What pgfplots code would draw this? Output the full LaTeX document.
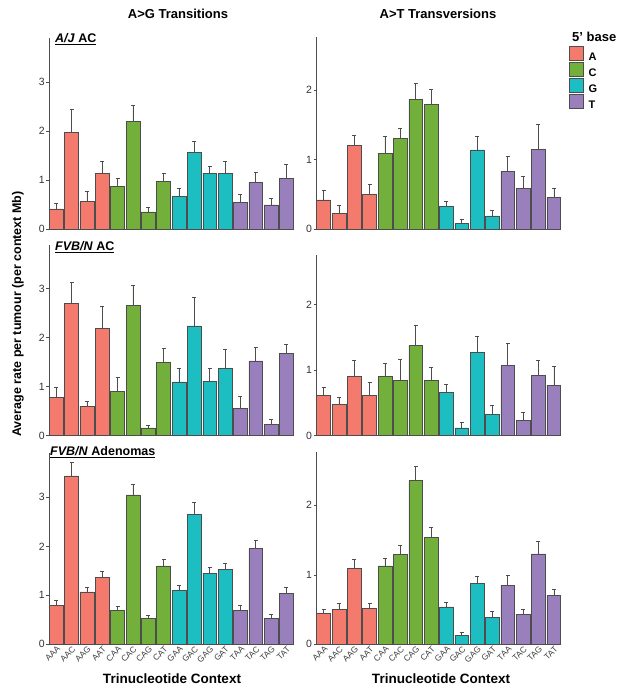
\documentclass[border=0pt]{standalone}
\usepackage{fontspec}
\setmainfont{Liberation Sans}
\usepackage{pgfplots}
\pgfplotsset{compat=1.18}
\definecolor{cA}{HTML}{F47A6E}
\definecolor{cC}{HTML}{72AF3B}
\definecolor{cG}{HTML}{1CBEC1}
\definecolor{cT}{HTML}{9A7FBD}
\definecolor{edge}{HTML}{4D4D4D}
\pgfplotsset{
  panel/.style={
    scale only axis, width=244pt,
    ybar, bar width=0.9, bar shift=0pt,
    xmin=0.55, xmax=16.45, ymin=0,
    axis lines*=left,
    axis line style={draw=edge, line width=0.7pt},
    tick align=outside, major tick length=3pt,
    y tick style={draw=edge, line width=0.6pt},
    x tick style={draw=none},
    xtick=\empty,
    /pgf/number format/assume math mode=true,
    yticklabel style={font=\fontsize{10.5}{12}\selectfont, text=black!80, inner sep=1.5pt},
    every axis plot/.append style={draw=edge, line width=0.5pt},
    error bars/y dir=plus, error bars/y explicit,
    error bars/error bar style={draw=edge, line width=0.6pt},
    error bars/error mark options={rotate=90, mark size=2pt, draw=edge, line width=0.6pt},
    clip=false,
  },
  leftp/.style={panel, height=191pt, ymax=3.9, ytick={0,1,2,3}},
  rightp/.style={panel, ymax=2.76, ytick={0,1,2}},
  bottomx/.style={xtick={1,...,16},
    xticklabels={AAA,AAC,AAG,AAT,CAA,CAC,CAG,CAT,GAA,GAC,GAG,GAT,TAA,TAC,TAG,TAT},
    xticklabel style={rotate=45, anchor=east, font=\fontsize{8.5}{9}\selectfont, text=black!75, inner sep=0.5pt, yshift=-2pt, xshift=2pt}},
}
\begin{document}
\begin{tikzpicture}[x=1pt,y=1pt]
\path[use as bounding box] (0,0) rectangle (626,693);

% ---------- Row 1 left: A/J AC, A>G
\begin{axis}[leftp, at={(49.3pt,464pt)}, anchor=south west]
\addplot[fill=cA] coordinates {(1,0.41)+-(0,0.11) (2,1.97)+-(0,0.47) (3,0.56)+-(0,0.20) (4,1.14)+-(0,0.24)};
\addplot[fill=cC] coordinates {(5,0.87)+-(0,0.16) (6,2.20)+-(0,0.32) (7,0.35)+-(0,0.09) (8,0.97)+-(0,0.17)};
\addplot[fill=cG] coordinates {(9,0.67)+-(0,0.16) (10,1.56)+-(0,0.23) (11,1.14)+-(0,0.14) (12,1.13)+-(0,0.25)};
\addplot[fill=cT] coordinates {(13,0.55)+-(0,0.16) (14,0.95)+-(0,0.20) (15,0.49)+-(0,0.14) (16,1.03)+-(0,0.29)};
\end{axis}

% ---------- Row 1 right: A/J AC, A>T
\begin{axis}[rightp, height=191.8pt, at={(316.7pt,464pt)}, anchor=south west,
  legend image code/.code={\draw[#1, line width=0.5pt] (0pt,-3pt) rectangle (14pt,11pt);},
  legend cell align=left,
  legend style={draw=none, fill=none, at={(rel axis cs:1.034,0.953)}, anchor=north west,
    row sep=0pt, column sep=5pt, inner sep=0pt,
    nodes={inner sep=0pt, font=\bfseries\fontsize{11}{13}\selectfont}}]
\addplot[fill=cA] coordinates {(1,0.42)+-(0,0.13) (2,0.22)+-(0,0.12) (3,1.20)+-(0,0.15) (4,0.50)+-(0,0.14)};
\addplot[fill=cC] coordinates {(5,1.09)+-(0,0.24) (6,1.30)+-(0,0.15) (7,1.87)+-(0,0.23) (8,1.79)+-(0,0.22)};
\addplot[fill=cG] coordinates {(9,0.33)+-(0,0.07) (10,0.08)+-(0,0.06) (11,1.14)+-(0,0.19) (12,0.19)+-(0,0.08)};
\addplot[fill=cT] coordinates {(13,0.83)+-(0,0.22) (14,0.58)+-(0,0.18) (15,1.15)+-(0,0.36) (16,0.45)+-(0,0.14)};
\legend{A,C,G,T}
\end{axis}

% ---------- Row 2 left: FVB/N AC, A>G
\begin{axis}[leftp, at={(49.3pt,257.3pt)}, anchor=south west]
\addplot[fill=cA] coordinates {(1,0.78)+-(0,0.20) (2,2.70)+-(0,0.43) (3,0.60)+-(0,0.11) (4,2.19)+-(0,0.46)};
\addplot[fill=cC] coordinates {(5,0.90)+-(0,0.30) (6,2.66)+-(0,0.42) (7,0.16)+-(0,0.06) (8,1.49)+-(0,0.30)};
\addplot[fill=cG] coordinates {(9,1.10)+-(0,0.28) (10,2.24)+-(0,0.59) (11,1.11)+-(0,0.27) (12,1.37)+-(0,0.39)};
\addplot[fill=cT] coordinates {(13,0.56)+-(0,0.25) (14,1.53)+-(0,0.28) (15,0.23)+-(0,0.10) (16,1.68)+-(0,0.18)};
\end{axis}

% ---------- Row 2 right: FVB/N AC, A>T
\begin{axis}[rightp, height=181pt, at={(316.7pt,257.3pt)}, anchor=south west]
\addplot[fill=cA] coordinates {(1,0.62)+-(0,0.12) (2,0.48)+-(0,0.11) (3,0.91)+-(0,0.24) (4,0.62)+-(0,0.20)};
\addplot[fill=cC] coordinates {(5,0.91)+-(0,0.20) (6,0.84)+-(0,0.33) (7,1.38)+-(0,0.31) (8,0.84)+-(0,0.20)};
\addplot[fill=cG] coordinates {(9,0.66)+-(0,0.13) (10,0.12)+-(0,0.08) (11,1.27)+-(0,0.25) (12,0.32)+-(0,0.14)};
\addplot[fill=cT] coordinates {(13,1.07)+-(0,0.34) (14,0.23)+-(0,0.12) (15,0.92)+-(0,0.23) (16,0.77)+-(0,0.29)};
\end{axis}

% ---------- Row 3 left: FVB/N Adenomas, A>G
\begin{axis}[leftp, bottomx, at={(49.3pt,48.7pt)}, anchor=south west]
\addplot[fill=cA] coordinates {(1,0.79)+-(0,0.10) (2,3.44)+-(0,0.27) (3,1.07)+-(0,0.10) (4,1.36)+-(0,0.13)};
\addplot[fill=cC] coordinates {(5,0.70)+-(0,0.08) (6,3.05)+-(0,0.21) (7,0.53)+-(0,0.07) (8,1.60)+-(0,0.14)};
\addplot[fill=cG] coordinates {(9,1.10)+-(0,0.10) (10,2.65)+-(0,0.24) (11,1.45)+-(0,0.12) (12,1.53)+-(0,0.13)};
\addplot[fill=cT] coordinates {(13,0.69)+-(0,0.10) (14,1.96)+-(0,0.16) (15,0.53)+-(0,0.09) (16,1.04)+-(0,0.13)};
\end{axis}

% ---------- Row 3 right: FVB/N Adenomas, A>T
\begin{axis}[rightp, bottomx, height=191.8pt, at={(316.7pt,48.7pt)}, anchor=south west]
\addplot[fill=cA] coordinates {(1,0.45)+-(0,0.06) (2,0.50)+-(0,0.09) (3,1.09)+-(0,0.14) (4,0.52)+-(0,0.07)};
\addplot[fill=cC] coordinates {(5,1.13)+-(0,0.11) (6,1.29)+-(0,0.13) (7,2.36)+-(0,0.20) (8,1.54)+-(0,0.14)};
\addplot[fill=cG] coordinates {(9,0.54)+-(0,0.06) (10,0.13)+-(0,0.04) (11,0.88)+-(0,0.10) (12,0.39)+-(0,0.08)};
\addplot[fill=cT] coordinates {(13,0.85)+-(0,0.15) (14,0.43)+-(0,0.07) (15,1.30)+-(0,0.18) (16,0.70)+-(0,0.09)};
\end{axis}

% ---------- Texts
\node[font=\bfseries\fontsize{13}{15}\selectfont] at (178,679) {A>G Transitions};
\node[font=\bfseries\fontsize{13}{15}\selectfont] at (438,679) {A>T Transversions};
\node[anchor=base west, inner sep=0pt, font=\bfseries\fontsize{12.5}{14}\selectfont] at (55,650) {\underline{\textit{A/J} AC}};
\node[anchor=base west, inner sep=0pt, font=\bfseries\fontsize{12.5}{14}\selectfont] at (55,442) {\underline{\textit{FVB/N} AC}};
\node[anchor=base west, inner sep=0pt, font=\bfseries\fontsize{12.5}{14}\selectfont] at (50,237) {\underline{\textit{FVB/N} Adenomas}};
\node[rotate=90, font=\bfseries\fontsize{12.5}{14}\selectfont] at (18,379) {Average rate per tumour (per context Mb)};
\node[font=\bfseries\fontsize{13.5}{15}\selectfont] at (172,14) {Trinucleotide Context};
\node[font=\bfseries\fontsize{13.5}{15}\selectfont] at (441,14) {Trinucleotide Context};
\node[anchor=west, inner sep=0pt, font=\bfseries\fontsize{13}{15}\selectfont] at (572,656) {5’ base};
\end{tikzpicture}
\end{document}
